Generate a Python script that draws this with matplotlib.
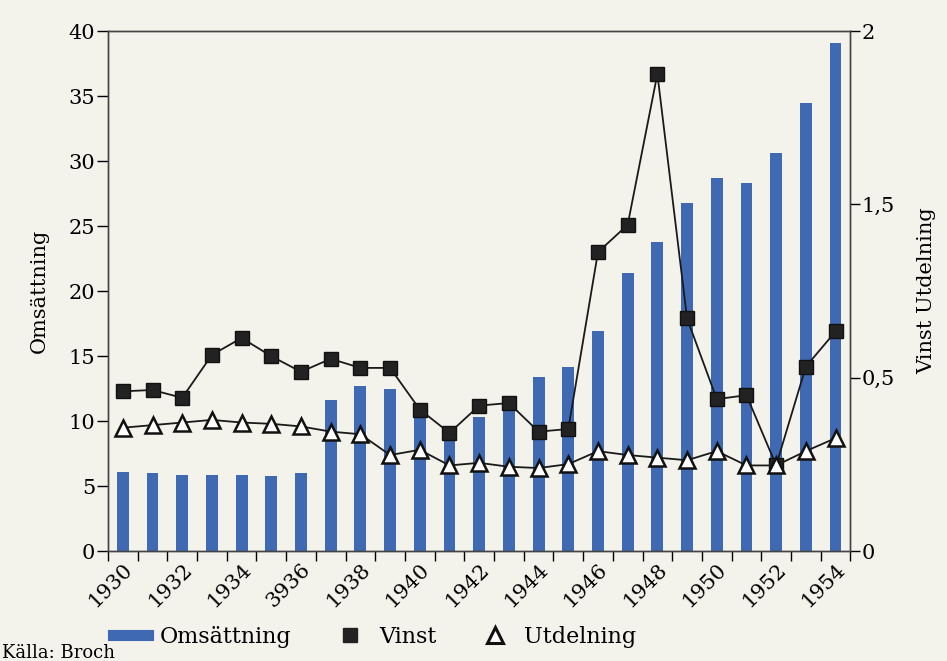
import matplotlib
matplotlib.use("Agg")
import matplotlib.pyplot as plt
from matplotlib.lines import Line2D
import numpy as np

# Data
years = list(range(1930, 1955))
omsattning = [6.1, 6.0, 5.9, 5.9, 5.9, 5.8, 6.0, 11.6, 12.7, 12.5, 10.3, 9.0, 10.3,
              10.8, 13.4, 14.2, 16.9, 21.4, 23.8, 26.8, 28.7, 28.3, 30.6, 34.5, 39.1]
vinst = [0.615, 0.62, 0.59, 0.755, 0.82, 0.75, 0.69, 0.74, 0.705, 0.705, 0.545, 0.455,
         0.56, 0.57, 0.46, 0.47, 1.15, 1.255, 1.835, 0.895, 0.585, 0.6, 0.33, 0.71, 0.845]
utdelning = [0.475, 0.485, 0.495, 0.505, 0.495, 0.49, 0.48, 0.46, 0.45, 0.37, 0.39, 0.33,
             0.34, 0.325, 0.32, 0.335, 0.385, 0.37, 0.36, 0.35, 0.385, 0.33, 0.33, 0.385, 0.435]
year_labels = ["1930", "1932", "1934", "3936", "1938", "1940", "1942",
               "1944", "1946", "1948", "1950", "1952", "1954"]
left_ticks = [0, 5, 10, 15, 20, 25, 30, 35, 40]
right_labels = ["0", "0,5", "1,5", "2"]

bg = "#f3f2eb"
blue = "#3f69b3"
plt.rcParams["font.family"] = ["DejaVu Serif"]

fig = plt.figure(figsize=(9.47, 6.61), dpi=100, facecolor=bg)
ax = fig.add_axes([0.114, 0.166, 0.784, 0.787])
ax.set_facecolor(bg)

x = np.arange(len(years))
ax.bar(x, omsattning, width=0.4, color=blue, zorder=2)
ax.set_xlim(-0.5, len(years) - 0.5)
ax.set_ylim(0, 40)
ax.set_yticks(left_ticks)
ax.tick_params(axis="y", direction="out", length=8, width=1, labelsize=15, pad=1)
ax.set_ylabel("Omsättning", fontsize=15, labelpad=14)

# year labels on every other bar, tick marks between bars
ax.set_xticks(x[::2])
ax.set_xticklabels(year_labels, rotation=45, ha="right", va="top",
                   rotation_mode="anchor", fontsize=15)
ax.tick_params(axis="x", which="major", length=0, pad=6)
ax.set_xticks(np.arange(len(years) + 1) - 0.5, minor=True)
ax.tick_params(axis="x", which="minor", direction="out", length=7, width=1)

for s in ax.spines.values():
    s.set_color("#444444")
    s.set_linewidth(1)

ax2 = ax.twinx()
ax2.set_ylim(0, 2)
ax2.plot(x, vinst, color="#1a1a1a", lw=1.3, marker="s", markersize=9.5,
         markerfacecolor="#222222", markeredgecolor="#111111", zorder=3)
ax2.plot(x, utdelning, color="#1a1a1a", lw=1.3, marker="^", markersize=11,
         markerfacecolor="white", markeredgecolor="#111111", markeredgewidth=1.8, zorder=4)
ax2.set_yticks(np.linspace(0, 2, len(right_labels)))
ax2.set_yticklabels(right_labels)
ax2.tick_params(axis="y", direction="out", length=7, width=1, labelsize=15, pad=1)
ax2.set_ylabel("Vinst Utdelning", fontsize=15, labelpad=16)
for s in ax2.spines.values():
    s.set_color("#444444")
    s.set_linewidth(1)

handles = [
    Line2D([], [], color=blue, lw=8),
    Line2D([], [], color="#222222", marker="s", linestyle="none", markersize=10),
    Line2D([], [], color="#111111", marker="^", linestyle="none", markersize=11,
           markerfacecolor="white", markeredgewidth=2.2),
]
fig.legend(handles, ["Omsättning", "Vinst", "Utdelning"], ncol=3, frameon=False,
           loc="center left", bbox_to_anchor=(0.098, 0.036), fontsize=16,
           handlelength=1.6, handletextpad=0.5, columnspacing=1.85)

fig.text(0.002, 3 / 661, "Källa: Broch", fontsize=13, va="baseline", ha="left")

fig.savefig("out.png", dpi=100, facecolor=bg)
